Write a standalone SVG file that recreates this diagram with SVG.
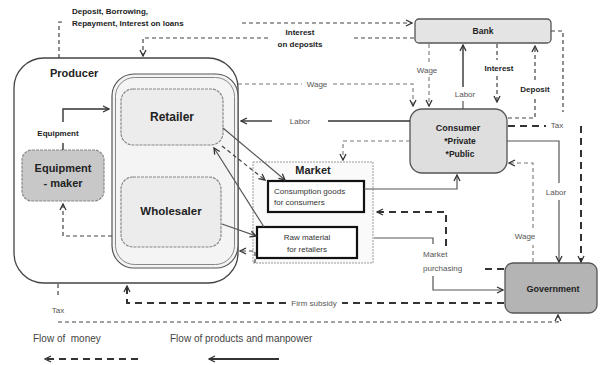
<svg xmlns="http://www.w3.org/2000/svg" width="601" height="365" viewBox="0 0 601 365">
<defs>
<style>
.t{font-family:"Liberation Sans",Arial,sans-serif}
.b{font-weight:bold;fill:#222}
.g{fill:#555}
.d{fill:none;stroke:#444;stroke-width:1.2;stroke-dasharray:4,3}
.dl{fill:none;stroke:#777;stroke-width:1.1;stroke-dasharray:4,3}
.dt{fill:none;stroke:#333;stroke-width:2;stroke-dasharray:7,5}
.s{fill:none;stroke:#555;stroke-width:1.2}
.sk{fill:none;stroke:#333;stroke-width:1.4}
</style>
<marker id="a" viewBox="0 0 8 8" refX="7" refY="4" markerWidth="8" markerHeight="8" markerUnits="userSpaceOnUse" orient="auto"><path d="M1,1 L7,4 L1,7" fill="none" stroke="#333" stroke-width="1.3"/></marker>
</defs>
<rect width="601" height="365" fill="#fff"/>

<g id="top-label" class="t b" font-size="8">
<text x="72" y="14">Deposit, Borrowing,</text>
<text x="72" y="26">Repayment, Interest on loans</text>
</g>

<g id="producer">
<rect x="14" y="58" width="224" height="225" rx="30" fill="#fff" stroke="#444" stroke-width="1.3"/>
<text class="t b" x="50" y="77" font-size="11">Producer</text>
</g>
<g id="firms">
<rect x="112" y="74" width="126" height="194" rx="22" fill="#f4f4f4" stroke="#555" stroke-width="1.2"/>
<rect x="115.5" y="77.5" width="119" height="187" rx="19" fill="none" stroke="#888" stroke-width="1"/>
</g>
<g id="retailer">
<rect x="121" y="89" width="102" height="56" rx="12" fill="#ececec" stroke="#888" stroke-width="1.2" stroke-dasharray="3,1"/>
<text class="t b" x="172" y="121" font-size="12" text-anchor="middle">Retailer</text>
</g>
<g id="wholesaler">
<rect x="121" y="177" width="100" height="70" rx="12" fill="#ececec" stroke="#888" stroke-width="1.2" stroke-dasharray="3,1"/>
<text class="t b" x="171" y="215" font-size="11.5" text-anchor="middle">Wholesaler</text>
</g>
<g id="equipment-maker">
<rect x="22" y="150" width="82" height="51" rx="10" fill="#c8c8c8" stroke="#888" stroke-width="1.2" stroke-dasharray="3,1"/>
<text class="t b" x="63" y="172" font-size="11" text-anchor="middle">Equipment</text>
<text class="t b" x="63" y="187" font-size="11" text-anchor="middle">- maker</text>
</g>
<g id="market">
<rect x="253" y="162" width="120" height="101" fill="#fafafa" stroke="#999" stroke-width="1" stroke-dasharray="2,1"/>
<text class="t b" x="313" y="174" font-size="11" text-anchor="middle">Market</text>
</g>
<g id="consumption-goods">
<rect x="268" y="181" width="96" height="31" fill="#fff" stroke="#111" stroke-width="2.2"/>
<text class="t" x="274" y="194" font-size="8" fill="#333">Consumption goods</text>
<text class="t" x="274" y="205" font-size="8" fill="#333">for consumers</text>
</g>
<g id="raw-material">
<rect x="257" y="227" width="100" height="31" fill="#fff" stroke="#111" stroke-width="2.2"/>
<text class="t" x="307" y="240" font-size="8" fill="#333" text-anchor="middle">Raw material</text>
<text class="t" x="307" y="252" font-size="8" fill="#333" text-anchor="middle">for retailers</text>
</g>
<g id="bank">
<rect x="415" y="19" width="136" height="24" rx="4" fill="#e4e4e4" stroke="#555" stroke-width="1.3"/>
<text class="t b" x="483" y="34" font-size="8.5" text-anchor="middle">Bank</text>
</g>
<g id="consumer">
<rect x="410" y="109" width="97" height="64" rx="12" fill="#dedede" stroke="#555" stroke-width="1.3"/>
<text class="t b" x="458" y="131" font-size="9" text-anchor="middle">Consumer</text>
<text class="t b" x="460" y="144" font-size="8.5" text-anchor="middle">*Private</text>
<text class="t b" x="460" y="157" font-size="8.5" text-anchor="middle">*Public</text>
</g>
<g id="government">
<rect x="505" y="263" width="92" height="50" rx="8" fill="#b4b4b4" stroke="#555" stroke-width="1.3"/>
<text class="t b" x="553" y="292" font-size="9" text-anchor="middle">Government</text>
</g>

<g id="connectors">
<path class="d" d="M59,58 V22 H65"/>
<path class="d" d="M242,23 H412" marker-end="url(#a)"/>
<path class="d" d="M414,38 H352"/>
<path class="d" d="M268,38 H143 V56" marker-end="url(#a)"/>
<path class="dl" d="M238,84 H302"/>
<path class="dl" d="M333,84 H413 V106" marker-end="url(#a)"/>
<path class="dl" d="M429,44 V63"/>
<path class="dl" d="M429,77 V106" marker-end="url(#a)"/>
<path class="sk" d="M463,87 V45" marker-end="url(#a)"/>
<path class="s" d="M463,101 V109"/>
<path class="d" d="M497,44 V60"/>
<path class="d" d="M497,76 V102" marker-end="url(#a)"/>
<path class="d" d="M508,118 H535 V98"/>
<path class="d" d="M535,80 V46" marker-end="url(#a)"/>
<path class="d" d="M551,31 H563 V112"/>
<path class="dt" d="M508,126 H546"/>
<path class="dt" d="M581,126 V262" marker-end="url(#a)"/>
<path class="sk" d="M410,121 H328"/>
<path class="sk" d="M272,121 H241" marker-end="url(#a)"/>
<path class="dl" d="M410,141 H343 V160" marker-end="url(#a)"/>
<path class="s" d="M364,189 H457 V175" marker-end="url(#a)"/>
<path class="s" d="M507,141 H559 V183"/>
<path class="s" d="M559,200 V262" marker-end="url(#a)"/>
<path class="dl" d="M533,262 V245"/>
<path class="dl" d="M533,228 V163 H509" marker-end="url(#a)"/>
<path class="s" d="M374,238 H433 V244"/>
<path class="s" d="M433,276 V290 H503" marker-end="url(#a)"/>
<path class="dt" d="M504,269 H485"/>
<path class="dt" d="M446,246 V212 H377" marker-end="url(#a)"/>
<path class="dt" d="M504,303 H342"/>
<path class="dt" d="M286,303 H127 V286" marker-end="url(#a)"/>
<path class="d" d="M58,284 V298"/>
<path class="d" stroke="#666" d="M58,322 H558 V315" marker-end="url(#a)"/>
<path class="sk" d="M63,122 V109 H109" marker-end="url(#a)"/>
<path class="sk" d="M63,143 V150"/>
<path class="d" d="M112,236 H63 V204" marker-end="url(#a)"/>
<path class="s" d="M223,128 L285,180" marker-end="url(#a)"/>
<path class="d" d="M222,146 L265,180" marker-end="url(#a)"/>
<path class="s" d="M264,227 L214,148" marker-end="url(#a)"/>
<path class="s" d="M222,224 L256,236" marker-end="url(#a)"/>
<path class="d" d="M255,263 V251 H240" marker-end="url(#a)"/>
</g>

<g id="labels" class="t" font-size="8">
<text class="b" x="300" y="35" text-anchor="middle">Interest</text>
<text class="b" x="300" y="47" text-anchor="middle">on deposits</text>
<text class="g" x="317" y="87" text-anchor="middle">Wage</text>
<text class="g" x="427" y="73" text-anchor="middle">Wage</text>
<text class="g" x="465" y="97" text-anchor="middle">Labor</text>
<text class="b" x="499" y="71" text-anchor="middle">Interest</text>
<text class="b" x="535" y="92" text-anchor="middle">Deposit</text>
<text class="g" x="557" y="128" text-anchor="middle">Tax</text>
<text class="g" x="300" y="124" text-anchor="middle">Labor</text>
<text class="g" x="556" y="195" text-anchor="middle">Labor</text>
<text class="g" x="525" y="239" text-anchor="middle">Wage</text>
<text class="g" x="423" y="257">Market</text>
<text class="g" x="423" y="271">purchasing</text>
<text class="g" x="314" y="306" text-anchor="middle">Firm subsidy</text>
<text class="g" x="58" y="313" text-anchor="middle">Tax</text>
<text class="b" x="58" y="136" text-anchor="middle">Equipment</text>
</g>

<g id="legend" class="t" font-size="10" fill="#444">
<text x="33" y="342" xml:space="preserve">Flow of  money</text>
<text x="170" y="342">Flow of products and manpower</text>
<path class="dt" d="M138,359 H45" marker-end="url(#a)"/>
<path fill="none" stroke="#333" stroke-width="2" d="M279,359 H209" marker-end="url(#a)"/>
</g>
</svg>
